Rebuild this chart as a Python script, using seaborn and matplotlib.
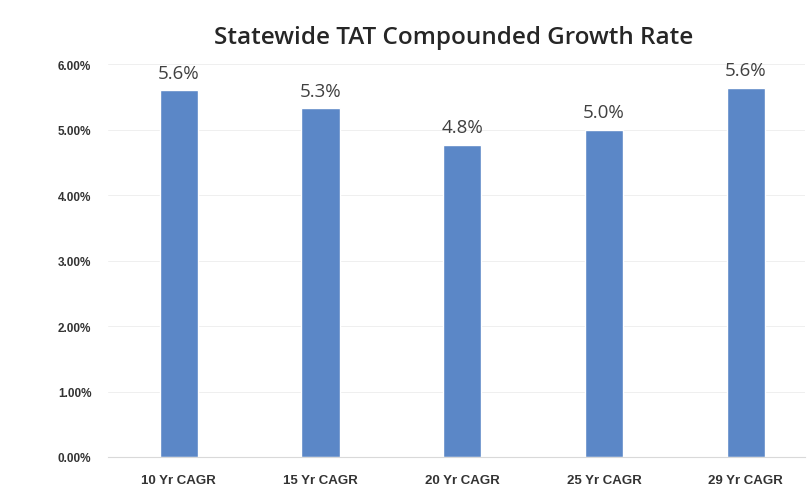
import numpy as np
import pandas as pd
import matplotlib
matplotlib.use("Agg")
import matplotlib.pyplot as plt
import seaborn as sns

# ---- data ----
periods = ["10 Yr CAGR", "15 Yr CAGR", "20 Yr CAGR", "25 Yr CAGR", "29 Yr CAGR"]
growth_pct = [5.60, 5.33, 4.77, 5.00, 5.64]
y_ticks = [0, 1, 2, 3, 4, 5, 6]

df = pd.DataFrame({"period": periods, "growth": growth_pct})

sns.set_theme(style="white")
plt.rcParams['font.family'] = ['Open Sans', 'DejaVu Sans']

fig = plt.figure(figsize=(8.09, 4.89), dpi=100)
ax = fig.add_axes([0.1335, 0.0634, 0.862, 0.8036])

sns.barplot(data=df, x="period", y="growth", color="#5B87C7", width=0.27,
            saturation=1, ax=ax)

ax.set_ylim(0, 6)
ax.set_xlim(-0.5, 4.42)
ax.set_yticks(y_ticks)
ax.set_yticklabels([f"{t:.2f}%" for t in y_ticks], fontsize=8.5,
                   fontweight="bold", family="Liberation Sans", color="#333333")
ax.set_xticks(range(len(periods)))
ax.set_xticklabels(periods, fontsize=9.5, fontweight="bold",
                   family="Liberation Sans", color="#333333")
ax.tick_params(axis="y", pad=12, length=0)
ax.tick_params(axis="x", pad=12, length=0)
ax.set_xlabel("")
ax.set_ylabel("")

# faint gridlines like the original
ax.yaxis.grid(True, color="#ececec", linewidth=0.6)
ax.set_axisbelow(True)
for s in ["top", "right", "left"]:
    ax.spines[s].set_visible(False)
ax.spines["bottom"].set_color("#d9d9d9")
ax.spines["bottom"].set_linewidth(0.8)

ax.bar_label(ax.containers[0], labels=[f"{v:.1f}%" for v in growth_pct],
             padding=6, fontsize=13.5, color="#404040")

fig.text(0.561, 0.922, "Statewide TAT Compounded Growth Rate", ha="center",
         va="center", fontsize=17.5, fontweight="semibold", color="#262626")

fig.savefig("out.png", dpi=100)
